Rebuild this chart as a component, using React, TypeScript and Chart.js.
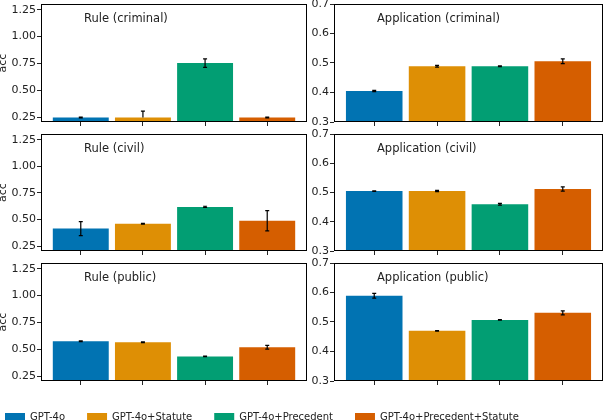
import React, { useEffect, useRef } from 'react';
import { Chart, registerables } from 'chart.js';

Chart.register(...registerables);
Chart.defaults.font.family = 'DejaVu Sans';

// ---- data ----
const models = ['GPT-4o', 'GPT-4o+Statute', 'GPT-4o+Precedent', 'GPT-4o+Precedent+Statute'];
const modelColors = ['#0173B2', '#DE8F05', '#029E73', '#D55E00'];

// accuracy and error-bar extents (below / above the bar top)
const ruleCriminalAcc = [0.247, 0.247, 0.753, 0.247];
const ruleCriminalErrLo = [0.004, 0.0, 0.04, 0.004];
const ruleCriminalErrHi = [0.004, 0.06, 0.04, 0.004];
const ruleCivilAcc = [0.415, 0.461, 0.619, 0.489];
const ruleCivilErrLo = [0.065, 0.003, 0.006, 0.095];
const ruleCivilErrHi = [0.065, 0.003, 0.006, 0.095];
const rulePublicAcc = [0.575, 0.566, 0.434, 0.519];
const rulePublicErrLo = [0.003, 0.003, 0.003, 0.018];
const rulePublicErrHi = [0.003, 0.003, 0.003, 0.018];

const appCriminalAcc = [0.405, 0.489, 0.489, 0.506];
const appCriminalErrLo = [0.002, 0.003, 0.001, 0.008];
const appCriminalErrHi = [0.002, 0.003, 0.001, 0.008];
const appCivilAcc = [0.505, 0.505, 0.46, 0.512];
const appCivilErrLo = [0.001, 0.002, 0.003, 0.007];
const appCivilErrHi = [0.001, 0.002, 0.003, 0.007];
const appPublicAcc = [0.589, 0.47, 0.507, 0.531];
const appPublicErrLo = [0.008, 0.001, 0.001, 0.007];
const appPublicErrHi = [0.008, 0.001, 0.001, 0.007];

const ruleTicks = [0.25, 0.5, 0.75, 1.0, 1.25];
const appTicks = [0.3, 0.4, 0.5, 0.6, 0.7];
const xPositions = [0, 1, 2, 3];

const TEXT = '#222222';

// ---- plugins ----
const errorBarPlugin = {
  id: 'errorBars',
  afterDatasetsDraw(chart: any, _args: any, opts: any) {
    const lo: number[] = opts.lo || [];
    const hi: number[] = opts.hi || [];
    const ctx = chart.ctx;
    const xs = chart.scales.x;
    const ys = chart.scales.y;
    const a = chart.chartArea;
    ctx.save();
    ctx.beginPath();
    ctx.rect(a.left, a.top, a.right - a.left, a.bottom - a.top);
    ctx.clip();
    ctx.strokeStyle = '#000';
    ctx.lineWidth = 1.2;
    chart.data.datasets.forEach((ds: any, i: number) => {
      const pt = ds.data[0];
      const x = xs.getPixelForValue(pt.x);
      const t = ys.getPixelForValue(pt.y + hi[i]);
      const b = ys.getPixelForValue(pt.y - lo[i]);
      ctx.beginPath();
      ctx.moveTo(x, t);
      ctx.lineTo(x, b);
      ctx.moveTo(x - 2, t);
      ctx.lineTo(x + 2, t);
      if (lo[i] > 0) {
        ctx.moveTo(x - 2, b);
        ctx.lineTo(x + 2, b);
      }
      ctx.stroke();
    });
    ctx.restore();
  },
};

const frameTitlePlugin = {
  id: 'frameTitle',
  afterDraw(chart: any, _args: any, opts: any) {
    const ctx = chart.ctx;
    const a = chart.chartArea;
    ctx.save();
    ctx.strokeStyle = '#000';
    ctx.lineWidth = 1;
    ctx.strokeRect(Math.round(a.left) + 0.5, Math.round(a.top) + 0.5, Math.round(a.right - a.left) - 1, Math.round(a.bottom - a.top) - 1);
    ctx.fillStyle = TEXT;
    ctx.font = '11.5px "DejaVu Sans"';
    ctx.textBaseline = 'middle';
    ctx.textAlign = 'left';
    ctx.fillText(opts.text, a.left + 43, a.top + 15.5);
    ctx.restore();
  },
};

// ---- layout ----
const rowTops = [4, 134, 263];
const rowBottoms = [122, 251, 381];
const cols = [
  { left: 0, width: 310, axisW: 41, padR: 3 },
  { left: 305, width: 303, axisW: 29, padR: 5 },
];

type PanelProps = {
  title: string;
  acc: number[];
  lo: number[];
  hi: number[];
  row: number;
  col: number;
  kind: 'rule' | 'app';
};

function Panel({ title, acc, lo, hi, row, col, kind }: PanelProps) {
  const ref = useRef<HTMLCanvasElement>(null);
  const c = cols[col];
  const top = rowTops[row] - 8;
  const height = rowBottoms[row] - rowTops[row] + 8 + 6;
  useEffect(() => {
    const ticks = kind === 'rule' ? ruleTicks : appTicks;
    const chart = new Chart(ref.current!, {
      type: 'bar',
      data: {
        datasets: models.map((m, i) => ({
          label: m,
          data: [{ x: xPositions[i], y: acc[i] }],
          backgroundColor: modelColors[i],
          borderWidth: 0,
          grouped: false,
          categoryPercentage: 1,
          barPercentage: 0.9,
        })) as any,
      },
      options: {
        responsive: false,
        animation: false,
        layout: { padding: { top: 8, left: 0, right: c.padR, bottom: 0 } },
        plugins: {
          legend: { display: false },
          tooltip: { enabled: false },
          errorBars: { lo, hi },
          frameTitle: { text: title },
        } as any,
        scales: {
          x: {
            type: 'linear',
            min: -0.64,
            max: 3.64,
            offset: false,
            afterBuildTicks: (s: any) => {
              s.ticks = xPositions.map((v) => ({ value: v }));
            },
            afterFit: (s: any) => {
              s.height = 6;
              s.paddingLeft = 0;
              s.paddingRight = 0;
            },
            ticks: { callback: () => '', padding: 0, autoSkip: false },
            grid: { offset: false, drawOnChartArea: false, drawTicks: true, tickLength: 4, color: '#262626', lineWidth: 1 },
            border: { display: false },
          },
          y: {
            type: 'linear',
            min: kind === 'rule' ? 0.205 : 0.3,
            max: kind === 'rule' ? 1.303 : 0.7,
            afterBuildTicks: (s: any) => {
              s.ticks = ticks.map((v) => ({ value: v }));
            },
            afterFit: (s: any) => {
              s.width = c.axisW;
              s.paddingTop = 0;
              s.paddingBottom = 0;
            },
            ticks: {
              autoSkip: false,
              padding: 1,
              color: TEXT,
              font: { size: 11 },
              callback: (v: any) => (kind === 'rule' ? Number(v).toFixed(2) : Number(v).toFixed(1)),
            },
            grid: { drawOnChartArea: false, drawTicks: true, tickLength: 4, color: '#262626', lineWidth: 1 },
            border: { display: false },
            title: {
              display: col === 0,
              text: 'acc',
              color: TEXT,
              font: { size: 11, lineHeight: 0.55 },
              padding: 0,
            },
          },
        },
      } as any,
      plugins: [errorBarPlugin, frameTitlePlugin],
    });
    return () => chart.destroy();
  }, []);
  return (
    <div style={{ position: 'absolute', left: c.left, top, width: c.width, height }}>
      <canvas ref={ref} width={c.width} height={height} style={{ width: c.width, height, display: 'block' }} />
    </div>
  );
}

function Legend() {
  const ref = useRef<HTMLCanvasElement>(null);
  useEffect(() => {
    const chart = new Chart(ref.current!, {
      type: 'bar',
      data: {
        labels: [],
        datasets: models.map((m, i) => ({ label: m, data: [], backgroundColor: modelColors[i], borderWidth: 0 })),
      },
      options: {
        responsive: false,
        animation: false,
        plugins: {
          legend: {
            display: true,
            position: 'top',
            align: 'start',
            maxHeight: 60,
            labels: { boxWidth: 20, boxHeight: 8, padding: 22, color: TEXT, font: { size: 10 } },
          },
          tooltip: { enabled: false },
        },
        scales: { x: { display: false }, y: { display: false } },
      } as any,
    });
    return () => chart.destroy();
  }, []);
  return (
    <div style={{ position: 'absolute', left: -17, top: 390, width: 640, height: 120 }}>
      <canvas ref={ref} width={640} height={120} style={{ width: 640, height: 120, display: 'block' }} />
    </div>
  );
}

export default function App() {
  return (
    <div style={{ position: 'fixed', left: 0, top: 0, width: 608, height: 420, overflow: 'hidden', background: '#fff' }}>
      <Panel title="Rule (criminal)" acc={ruleCriminalAcc} lo={ruleCriminalErrLo} hi={ruleCriminalErrHi} row={0} col={0} kind="rule" />
      <Panel title="Application (criminal)" acc={appCriminalAcc} lo={appCriminalErrLo} hi={appCriminalErrHi} row={0} col={1} kind="app" />
      <Panel title="Rule (civil)" acc={ruleCivilAcc} lo={ruleCivilErrLo} hi={ruleCivilErrHi} row={1} col={0} kind="rule" />
      <Panel title="Application (civil)" acc={appCivilAcc} lo={appCivilErrLo} hi={appCivilErrHi} row={1} col={1} kind="app" />
      <Panel title="Rule (public)" acc={rulePublicAcc} lo={rulePublicErrLo} hi={rulePublicErrHi} row={2} col={0} kind="rule" />
      <Panel title="Application (public)" acc={appPublicAcc} lo={appPublicErrLo} hi={appPublicErrHi} row={2} col={1} kind="app" />
      <Legend />
    </div>
  );
}
